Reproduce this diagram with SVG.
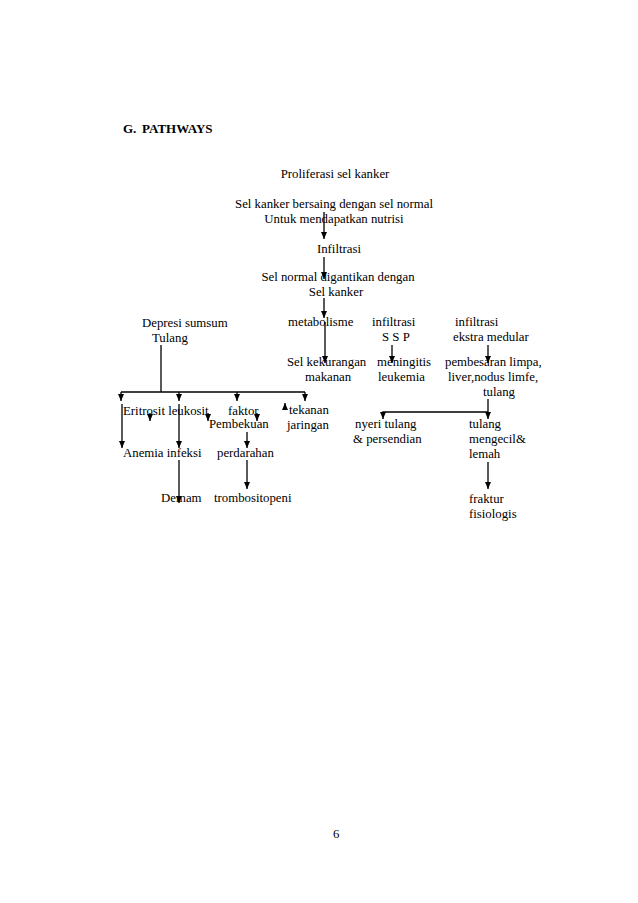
<svg xmlns="http://www.w3.org/2000/svg" width="638" height="903" viewBox="0 0 638 903">
<style>
text{font-family:"Liberation Serif","Times New Roman",serif;font-size:12.8px;fill:#000}
.t{font-weight:bold;font-size:13px}
.c{text-anchor:middle}
line,polyline{stroke:#000;stroke-width:1.3;fill:none}
.a{marker-end:url(#ah)}
</style>
<defs>
<marker id="ah" markerUnits="userSpaceOnUse" markerWidth="8" markerHeight="8" viewBox="0 0 8 8" refX="7" refY="4" orient="auto">
<path d="M0,1 L7,4 L0,7 Z" fill="#000"/>
</marker>
</defs>
<rect width="638" height="903" fill="#fff"/>
<g id="title"><text class="t" x="123" y="133">G.</text><text class="t" x="142" y="133">PATHWAYS</text></g>
<g id="n-proliferasi"><text class="c" x="335" y="178">Proliferasi sel kanker</text></g>
<g id="n-bersaing"><text class="c" x="334" y="208">Sel kanker bersaing dengan sel normal</text><text class="c" x="334" y="223">Untuk mendapatkan nutrisi</text></g>
<g id="n-infiltrasi"><text class="c" x="339" y="253">Infiltrasi</text></g>
<g id="n-digantikan"><text class="c" x="338" y="281">Sel normal digantikan dengan</text><text class="c" x="336" y="296">Sel kanker</text></g>
<g id="n-depresi"><text x="142" y="327">Depresi sumsum</text><text x="152" y="342">Tulang</text></g>
<g id="n-metabolisme"><text x="288" y="326">metabolisme</text></g>
<g id="n-ssp"><text x="372" y="326">infiltrasi</text><text x="382" y="341">S S P</text></g>
<g id="n-ekstra"><text x="455" y="326">infiltrasi</text><text x="453" y="341">ekstra medular</text></g>
<g id="n-kekurangan"><text x="287" y="366">Sel kekurangan</text><text x="305" y="381">makanan</text></g>
<g id="n-meningitis"><text x="377" y="366">meningitis</text><text x="378" y="381">leukemia</text></g>
<g id="n-pembesaran"><text x="445" y="366">pembesaran limpa,</text><text x="448" y="381">liver,nodus limfe,</text><text x="483" y="396">tulang</text></g>
<g id="n-eritrosit"><text x="123" y="415">Eritrosit leukosit</text></g>
<g id="n-faktor"><text x="228" y="415">faktor</text><text x="209" y="428">Pembekuan</text></g>
<g id="n-tekanan"><text x="289" y="414">tekanan</text><text x="287" y="429">jaringan</text></g>
<g id="n-nyeri"><text x="355" y="428">nyeri tulang</text><text x="353" y="443">&amp; persendian</text></g>
<g id="n-mengecil"><text x="469" y="428">tulang</text><text x="469" y="443">mengecil&amp;</text><text x="469" y="458">lemah</text></g>
<g id="n-anemia"><text x="123" y="457">Anemia infeksi</text></g>
<g id="n-perdarahan"><text x="217" y="457">perdarahan</text></g>
<g id="n-demam"><text x="161" y="502">Demam</text></g>
<g id="n-trombositopeni"><text x="214" y="502">trombositopeni</text></g>
<g id="n-fraktur"><text x="469" y="503">fraktur</text><text x="469" y="518">fisiologis</text></g>
<g id="page"><text x="333" y="838">6</text></g>
<g id="connectors">
<line class="a" x1="324" y1="212" x2="324" y2="239"/>
<line class="a" x1="324" y1="257" x2="324" y2="279"/>
<line class="a" x1="324" y1="298" x2="324" y2="318"/>
<line class="a" x1="325" y1="322" x2="325" y2="363"/>
<line class="a" x1="392" y1="345" x2="392" y2="363"/>
<line class="a" x1="488" y1="345" x2="488" y2="363"/>
<line x1="488" y1="399" x2="488" y2="412"/>
<polyline class="a" points="488,412 383,412 383,419"/>
<line class="a" x1="488" y1="412" x2="488" y2="419"/>
<line x1="161" y1="345" x2="161" y2="392"/>
<line x1="121" y1="392" x2="305" y2="392"/>
<line class="a" x1="121" y1="392" x2="121" y2="401"/>
<line class="a" x1="179" y1="392" x2="179" y2="401"/>
<line class="a" x1="237" y1="392" x2="237" y2="401"/>
<line class="a" x1="305" y1="392" x2="305" y2="401"/>
<line class="a" x1="122" y1="404" x2="122" y2="448"/>
<line class="a" x1="179" y1="404" x2="179" y2="448"/>
<line class="a" x1="150" y1="413" x2="150" y2="421"/>
<line class="a" x1="208" y1="413" x2="208" y2="421"/>
<line class="a" x1="257" y1="413" x2="257" y2="421"/>
<line class="a" x1="285" y1="410" x2="285" y2="403"/>
<line class="a" x1="247" y1="432" x2="247" y2="448"/>
<line class="a" x1="179" y1="460" x2="179" y2="503"/>
<line class="a" x1="247" y1="460" x2="247" y2="489"/>
<line class="a" x1="488" y1="462" x2="488" y2="489"/>
</g>
</svg>
